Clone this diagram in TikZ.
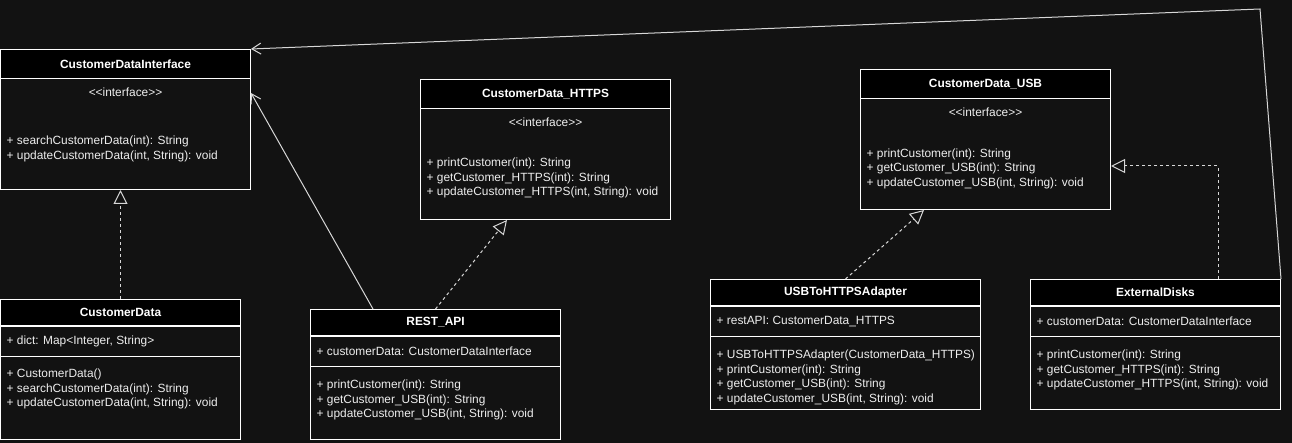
\documentclass[tikz,border=0pt]{standalone}
\usepackage{fontspec}
\setmainfont{Liberation Sans}
\usetikzlibrary{calc,positioning,arrows.meta}
\definecolor{canvas}{RGB}{18,18,18}
\definecolor{ink}{RGB}{238,238,238}
\definecolor{wire}{RGB}{215,215,215}
\newcommand\umlfont{\fontsize{11.9}{14.6}\selectfont}
\tikzset{
  umlframe/.style={
    draw=white, fill=canvas, line width=1pt,
    anchor=north west, inner sep=0pt},
  umltitle/.style={
    draw=white, fill=black, line width=1pt,
    anchor=north west, inner sep=0pt,
    text=white, font=\umlfont\bfseries},
  umlpart/.style={draw=white, line width=1pt, inner sep=0pt, minimum height=30pt},
  umlstereo/.style={inner sep=0pt, text=ink, font=\umlfont},
  umltext/.style={inner sep=0pt, text=ink, font=\umlfont, align=left},
  realize/.style={draw=wire, line width=1pt, dash pattern=on 3pt off 3pt,
    -{Triangle[length=14pt, width=14pt, fill=canvas]}},
  assoc/.style={draw=wire, line width=1pt,
    -{Straight Barb[length=9pt, width=11pt]}},
}
\begin{document}
\begin{tikzpicture}[x=1pt, y=-1pt]
\fill[canvas] (0,0) rectangle (1292,443);
\useasboundingbox (0,0) rectangle (1292,443);

% interfaces
\node[umlframe, minimum width=250pt, minimum height=140pt] (cdi) at (0,49) {};
\node[umltitle, minimum width=250pt, minimum height=29pt] (cdi-h) at (cdi.north west) {CustomerDataInterface};
\node[umlstereo, below=8.4pt of cdi-h] (cdi-s) {<\kern0pt<interface>\kern0pt>};
\node[umltext, below right=56.6pt and 6.5pt of cdi-h.south west] (cdi-m)
  {+ searchCustomerData(int): String\\+ updateCustomerData(int, String): void};

\node[umlframe, minimum width=250pt, minimum height=140pt] (https) at (420,79) {};
\node[umltitle, minimum width=250pt, minimum height=29pt] (https-h) at (https.north west) {CustomerData\_HTTPS};
\node[umlstereo, below=8.4pt of https-h] (https-s) {<\kern0pt<interface>\kern0pt>};
\node[umltext, below right=48.6pt and 6.5pt of https-h.south west] (https-m)
  {+ printCustomer(int): String\\+ getCustomer\_HTTPS(int): String\\+ updateCustomer\_HTTPS(int, String): void};

\node[umlframe, minimum width=250pt, minimum height=140pt] (usb) at (860,69) {};
\node[umltitle, minimum width=250pt, minimum height=29pt] (usb-h) at (usb.north west) {CustomerData\_USB};
\node[umlstereo, below=8.6pt of usb-h] (usb-s) {<\kern0pt<interface>\kern0pt>};
\node[umltext, below right=49.3pt and 6.5pt of usb-h.south west] (usb-m)
  {+ printCustomer(int): String\\+ getCustomer\_USB(int): String\\+ updateCustomer\_USB(int, String): void};

% classes
\node[umlframe, minimum width=240pt, minimum height=140pt] (cd) at (0,299) {};
\node[umltitle, minimum width=240pt, minimum height=26pt] (cd-h) at (cd.north west) {CustomerData};
\node[umlpart, minimum width=240pt, below=0pt of cd-h] (cd-a) {};
\node[umltext, right=6.5pt of cd-a.west] (cd-at) {+ dict: Map<Integer, String>};
\node[umltext, below right=11.6pt and 6.5pt of cd-a.south west] (cd-m)
  {+ CustomerData()\\+ searchCustomerData(int): String\\+ updateCustomerData(int, String): void};

\node[umlframe, minimum width=250pt, minimum height=130pt] (rest) at (310,309) {};
\node[umltitle, minimum width=250pt, minimum height=26pt] (rest-h) at (rest.north west) {REST\_API};
\node[umlpart, minimum width=250pt, below=0pt of rest-h] (rest-a) {};
\node[umltext, right=6.5pt of rest-a.west] (rest-at) {+ customerData: CustomerDataInterface};
\node[umltext, below right=12.9pt and 6.5pt of rest-a.south west] (rest-m)
  {+ printCustomer(int): String\\+ getCustomer\_USB(int): String\\+ updateCustomer\_USB(int, String): void};

\node[umlframe, minimum width=270pt, minimum height=130pt] (adp) at (710,279) {};
\node[umltitle, minimum width=270pt, minimum height=26pt] (adp-h) at (adp.north west) {USBToHTTPSAdapter};
\node[umlpart, minimum width=270pt, below=0pt of adp-h] (adp-a) {};
\node[umltext, right=6.5pt of adp-a.west] (adp-at) {+ restAPI: CustomerData\_HTTPS};
\node[umltext, below right=12.9pt and 6.5pt of adp-a.south west] (adp-m)
  {+ USBToHTTPSAdapter(CustomerData\_HTTPS)\\+ printCustomer(int): String\\+ getCustomer\_USB(int): String\\+ updateCustomer\_USB(int, String): void};

\node[umlframe, minimum width=250pt, minimum height=130pt] (ext) at (1030,279) {};
\node[umltitle, minimum width=250pt, minimum height=26pt] (ext-h) at (ext.north west) {ExternalDisks};
\node[umlpart, minimum width=250pt, below=0pt of ext-h] (ext-a) {};
\node[umltext, right=6.5pt of ext-a.west] (ext-at) {+ customerData: CustomerDataInterface};
\node[umltext, below right=12.9pt and 6.5pt of ext-a.south west] (ext-m)
  {+ printCustomer(int): String\\+ getCustomer\_HTTPS(int): String\\+ updateCustomer\_HTTPS(int, String): void};

% connectors
\draw[realize] (cd.north) -- (cd.north |- cdi.south);
\draw[realize] (rest.north) -- ($(https.south west)+(87,0)$);
\draw[assoc] ($(rest.north west)+(63,0)$) -- ($(cdi.north east)+(0,44)$);
\draw[realize] (adp.north) -- ($(usb.south west)+(64,0)$);
\draw[realize] ($(ext.north west)+(188,0)$) |- ($(usb.north east)+(0,97)$);
\coordinate (bend) at (1260,9);
\draw[assoc] (ext.north east) -- (bend) -- (cdi.north east);

\end{tikzpicture}
\end{document}
